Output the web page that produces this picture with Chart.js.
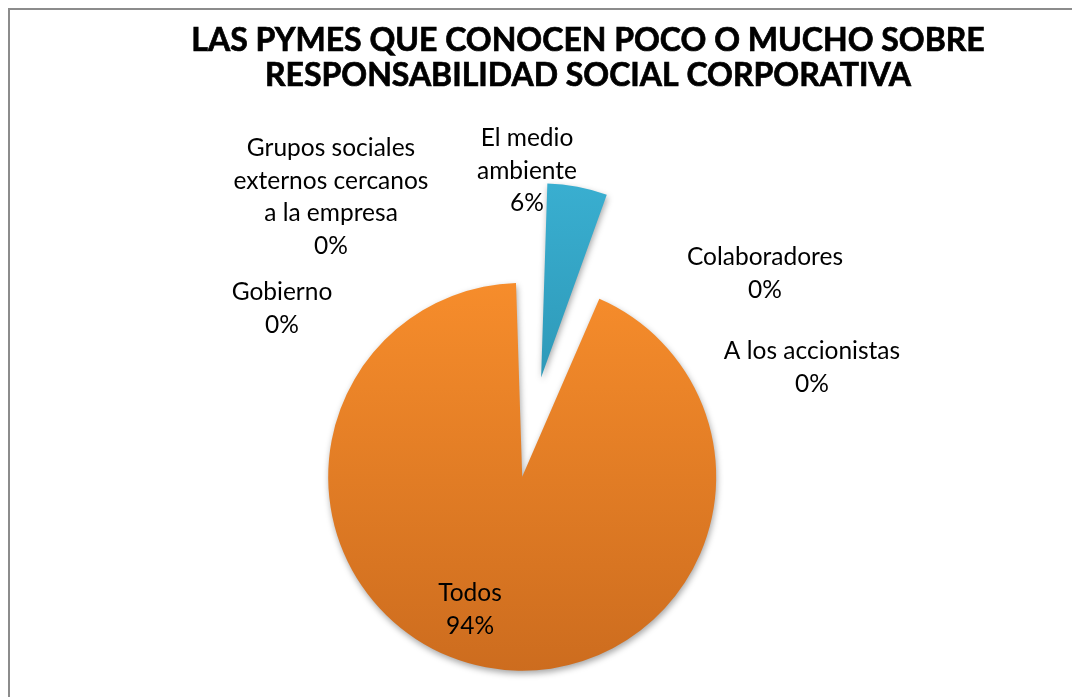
<!DOCTYPE html>
<html lang="es">
<head>
<meta charset="utf-8">
<title>Las PYMES y la responsabilidad social corporativa</title>
<script src="https://cdn.jsdelivr.net/npm/chart.js@4.4.1/dist/chart.umd.min.js"></script>
<style>
  html, body { margin: 0; padding: 0; background: #ffffff; overflow: hidden; }
  #wrap { position: relative; width: 1072px; height: 697px; }
  canvas { display: block; }
</style>
</head>
<body>
<div id="wrap"><canvas id="chart" width="1072" height="697"></canvas></div>
<script>
// Categories, clockwise from 12 o'clock
const categories = [
  ['El medio', 'ambiente'],
  ['Colaboradores'],
  ['A los accionistas'],
  ['Todos'],
  ['Gobierno'],
  ['Grupos sociales', 'externos cercanos', 'a la empresa']
];
// Share of respondents (%)
const shares = [6, 0, 0, 94, 0, 0];
const titleLines = [
  'LAS PYMES QUE CONOCEN POCO O MUCHO SOBRE',
  'RESPONSABILIDAD SOCIAL CORPORATIVA'
];

// Slice fills: [light top, dark bottom]
const sliceColors = [
  ['#3ab0d2', '#22839f'],
  ['#3ab0d2', '#22839f'],
  ['#3ab0d2', '#22839f'],
  ['#f88e2c', '#cb6b1e'],
  ['#f88e2c', '#cb6b1e'],
  ['#f88e2c', '#cb6b1e']
];
// How far each slice is pulled out of the pie
const explode = [248, 0, 0, 156, 0, 0];

// Where each data label sits: centre x and first baseline
const labelSpots = [
  [527, 146],
  [765, 265],
  [812, 359],
  [470, 601],
  [282, 300],
  [331, 156]
];
const LABEL_LINE = 32.5;

const total = shares.reduce((a, b) => a + b, 0);

function sliceFill(context) {
  const chart = context.chart;
  const i = context.dataIndex;
  const cols = sliceColors[i];
  const area = chart.chartArea;
  if (!area) return cols[0];
  const meta = chart.getDatasetMeta(0);
  const arc = meta.data[i];
  const cy = arc && arc.y ? arc.y : (area.top + area.bottom) / 2;
  const r = arc && arc.outerRadius ? arc.outerRadius : 150;
  const g = chart.ctx.createLinearGradient(0, cy - r - 60, 0, cy + r + 60);
  g.addColorStop(0, cols[0]);
  g.addColorStop(1, cols[1]);
  return g;
}

const framePlugin = {
  id: 'frame',
  beforeDraw(chart) {
    const c = chart.ctx;
    c.save();
    c.strokeStyle = '#8c8c8c';
    c.lineWidth = 2;
    c.strokeRect(9, 9, 3000, 3000);
    c.restore();
  }
};

const shadowPlugin = {
  id: 'sliceShadow',
  beforeDatasetsDraw(chart) {
    const c = chart.ctx;
    c.save();
    c.shadowColor = 'rgba(0,0,0,0.35)';
    c.shadowBlur = 6;
    c.shadowOffsetX = 1;
    c.shadowOffsetY = 3;
  },
  afterDatasetsDraw(chart) {
    chart.ctx.restore();
  }
};

const textPlugin = {
  id: 'chartText',
  afterDraw(chart) {
    const c = chart.ctx;
    c.save();
    c.fillStyle = '#000000';
    c.strokeStyle = '#000000';
    c.textAlign = 'center';
    c.textBaseline = 'alphabetic';
    // title
    c.font = 'bold 32px Lato';
    c.lineWidth = 0.7;
    titleLines.forEach((t, k) => {
      const y = 51 + k * 35;
      c.fillText(t, 588, y);
      c.strokeText(t, 588, y);
    });
    // data labels
    c.font = '24.5px Lato';
    const labels = chart.data.labels;
    const vals = chart.data.datasets[0].data;
    labels.forEach((lab, i) => {
      const lines = (Array.isArray(lab) ? lab.slice() : [lab]);
      lines.push(Math.round(vals[i] / total * 100) + '%');
      const [x, y0] = labelSpots[i];
      lines.forEach((t, k) => c.fillText(t, x, y0 + k * LABEL_LINE));
    });
    c.restore();
  }
};

new Chart(document.getElementById('chart'), {
  type: 'pie',
  data: {
    labels: categories,
    datasets: [{
      data: shares,
      backgroundColor: sliceFill,
      borderWidth: 0,
      offset: explode
    }]
  },
  options: {
    responsive: false,
    animation: false,
    events: [],
    radius: 155,
    rotation: 0,
    layout: { padding: { left: 0, right: 13, top: 190, bottom: 10 } },
    plugins: {
      legend: { display: false },
      title: { display: false },
      tooltip: { enabled: false }
    }
  },
  plugins: [framePlugin, shadowPlugin, textPlugin]
});
</script>
</body>
</html>
